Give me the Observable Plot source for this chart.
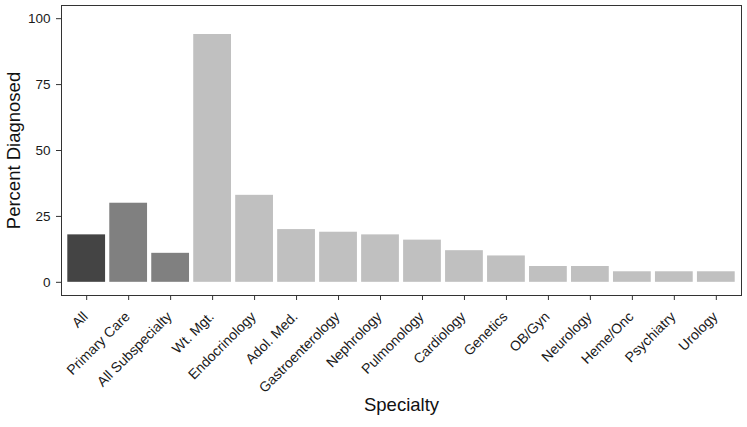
<!DOCTYPE html>
<html><head><meta charset="utf-8">
<script src="https://cdn.jsdelivr.net/npm/d3@7"></script>
<script src="https://cdn.jsdelivr.net/npm/@observablehq/plot@0.6"></script>
<style>body{margin:0;background:#fff} svg{font-family:"Liberation Sans",Arial,sans-serif}</style>
</head><body><div id="chart"></div>
<script>
const specialties = ["All","Primary Care","All Subspecialty","Wt. Mgt.","Endocrinology","Adol. Med.","Gastroenterology","Nephrology","Pulmonology","Cardiology","Genetics","OB/Gyn","Neurology","Heme/Onc","Psychiatry","Urology"];
const percents = [18,30,11,94,33,20,19,18,16,12,10,6,6,4,4,4];
const groups = ["All","Group","Group","Specialty","Specialty","Specialty","Specialty","Specialty","Specialty","Specialty","Specialty","Specialty","Specialty","Specialty","Specialty","Specialty"];
const groupNames = ["All","Group","Specialty"];
const groupColors = ["#444444","#808080","#c0c0c0"];
const yTicks = [0,25,50,75,100];
const data = specialties.map((s,i)=>({specialty:s, pct:percents[i], group:groups[i]}));
const chart = Plot.plot({
  width:747, height:427, marginLeft:61, marginRight:6, marginTop:5, marginBottom:132,
  style:{fontFamily:'"Liberation Sans",Arial,sans-serif', fontSize:"13px", color:"#222", background:"#fff"},
  x:{domain:specialties, paddingInner:0.1, paddingOuter:0.15, round:false},
  y:{domain:[-5,105]},
  color:{domain:groupNames, range:groupColors},
  marks:[
    Plot.barY(data,{x:"specialty", y:"pct", fill:"group"}),
    Plot.frame({stroke:"#333", strokeWidth:1}),
    Plot.axisX({tickSize:5, tickFormat:()=>"", label:null, stroke:"#333"}),
    Plot.text(specialties, {x:d=>d, frameAnchor:"bottom", dx:-5, dy:15, rotate:-45, textAnchor:"end", lineAnchor:"top", fontSize:14, fill:"#1a1a1a"}),
    Plot.axisY({ticks:yTicks, tickSize:5, tickPadding:6, label:null, fontSize:13.5, stroke:"#333", fill:"#1a1a1a"}),
    Plot.text(["Specialty"], {frameAnchor:"bottom", dy:115, fontSize:18.5, fill:"#111"}),
    Plot.text(["Percent Diagnosed"], {frameAnchor:"left", dx:-47, rotate:-90, textAnchor:"middle", fontSize:18.5, fill:"#111"})
  ]
});
document.getElementById("chart").appendChild(chart);
</script></body></html>
